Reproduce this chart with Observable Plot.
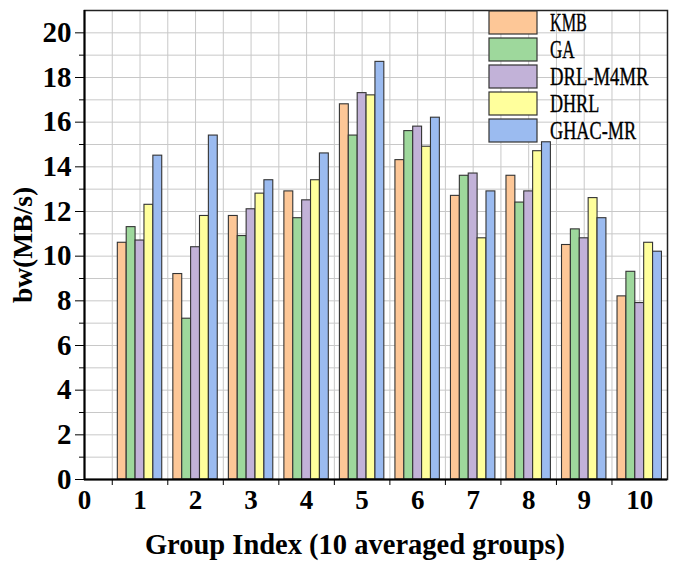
<!DOCTYPE html>
<html><head><meta charset="utf-8">
<script src="https://cdn.jsdelivr.net/npm/d3@7"></script>
<script src="https://cdn.jsdelivr.net/npm/@observablehq/plot@0.6"></script>
<style>
body{margin:0;background:#fff}
#wrap{position:relative;width:676px;height:571px}
#legend{position:absolute;left:0;top:0}
</style>
</head><body><div id="wrap"></div>
<script>
const groups = [1, 2, 3, 4, 5, 6, 7, 8, 9, 10];
const series = ["KMB", "GA", "DRL-M4MR", "DHRL", "GHAC-MR"];
const colors = ["#FDC797", "#9ED89C", "#C2B2D8", "#FFFF9C", "#9BBBF0"];
const KMB  = [10.6, 9.2, 11.8, 12.9, 16.8, 14.3, 12.7, 13.6, 10.5, 8.2];
const GA   = [11.3, 7.2, 10.9, 11.7, 15.4, 15.6, 13.6, 12.4, 11.2, 9.3];
const DRL  = [10.7, 10.4, 12.1, 12.5, 17.3, 15.8, 13.7, 12.9, 10.8, 7.9];
const DHRL = [12.3, 11.8, 12.8, 13.4, 17.2, 14.9, 10.8, 14.7, 12.6, 10.6];
const GHAC = [14.5, 15.4, 13.4, 14.6, 18.7, 16.2, 12.9, 15.1, 11.7, 10.2];
const yMajorTicks = [0, 2, 4, 6, 8, 10, 12, 14, 16, 18, 20];
const yMinorTicks = [1, 3, 5, 7, 9, 11, 13, 15, 17, 19];
const xTickLabels = [0, 1, 2, 3, 4, 5, 6, 7, 8, 9, 10];
const xTickMarks = [0.5, 1.5, 2.5, 3.5, 4.5, 5.5, 6.5, 7.5, 8.5, 9.5];
const yLabel = "bw(MB/s)";
const xLabel = "Group Index (10 averaged groups)";

const valuesBySeries = [KMB, GA, DRL, DHRL, GHAC];
const rows = [];
series.forEach((s, i) => groups.forEach((g, j) => rows.push({group: g, si: i, series: s, value: valuesBySeries[i][j]})));

const barW = 0.16;
const font = "Liberation Serif";

const chart = Plot.plot({
  width: 676, height: 571,
  marginLeft: 84, marginRight: 9, marginTop: 10, marginBottom: 92,
  style: {fontFamily: font, background: "#fff", overflow: "visible"},
  x: {type: "linear", domain: [0, 10.5]},
  y: {domain: [0, 21]},
  color: {domain: series, range: colors},
  marks: [
    Plot.gridX(d3.range(0.5, 10.5, 0.5), {stroke: "#c8c8c8", strokeOpacity: 1}),
    Plot.gridY(d3.range(1, 21), {stroke: "#c8c8c8", strokeOpacity: 1}),
    Plot.rectY(rows, {
      x1: d => d.group - 0.4 + d.si * barW,
      x2: d => d.group - 0.4 + (d.si + 1) * barW,
      y1: 0, y2: "value",
      fill: "series", stroke: "#333", strokeWidth: 1.1
    }),
    Plot.frame({stroke: "#222", strokeWidth: 1.5}),
    Plot.ruleX([0], {stroke: "#000", strokeWidth: 2}),
    Plot.ruleY([0], {stroke: "#000", strokeWidth: 2}),
    Plot.axisY(yMajorTicks, {tickSize: 9, tickPadding: 4, fontSize: 29, fontWeight: "bold", fill: "#000", label: null, tickFormat: d => d}),
    Plot.axisY(yMinorTicks, {tickSize: 5, text: null, label: null}),
    Plot.axisX(xTickLabels, {tickSize: 0, tickPadding: 10, fontSize: 27, fontWeight: "bold", fill: "#000", label: null, tickFormat: d => d}),
    Plot.axisX(xTickMarks, {tickSize: 6, text: null, label: null}),
    Plot.text([xLabel], {frameAnchor: "bottom", dx: -21, dy: 65, lineAnchor: "middle", textAnchor: "middle", fontSize: 28.5, fontWeight: "bold", fill: "#000"}),
    Plot.text([yLabel], {frameAnchor: "left", dx: -61, rotate: -90, lineAnchor: "middle", textAnchor: "middle", fontSize: 27.5, fontWeight: "bold", fill: "#000"})
  ]
});

const wrap = document.getElementById("wrap");
wrap.appendChild(chart);

// legend overlay
const lg = d3.select(wrap).append("svg").attr("id", "legend").attr("width", 676).attr("height", 571);
const item = lg.selectAll("g").data(series).join("g")
  .attr("transform", (d, i) => `translate(489,${11 + i * 27})`);
item.append("rect").attr("width", 48).attr("height", 23)
  .attr("fill", (d, i) => colors[i]).attr("stroke", "#333").attr("stroke-width", 1.2);
item.append("text")
  .attr("transform", "translate(61,20) scale(1,1.4)")
  .attr("font-family", font).attr("font-size", 18)
  .attr("stroke", "#000").attr("stroke-width", 0.25)
  .attr("textLength", d => d.length * 12.3).attr("lengthAdjust", "spacingAndGlyphs")
  .attr("fill", "#000").text(d => d);
</script>
</body></html>
